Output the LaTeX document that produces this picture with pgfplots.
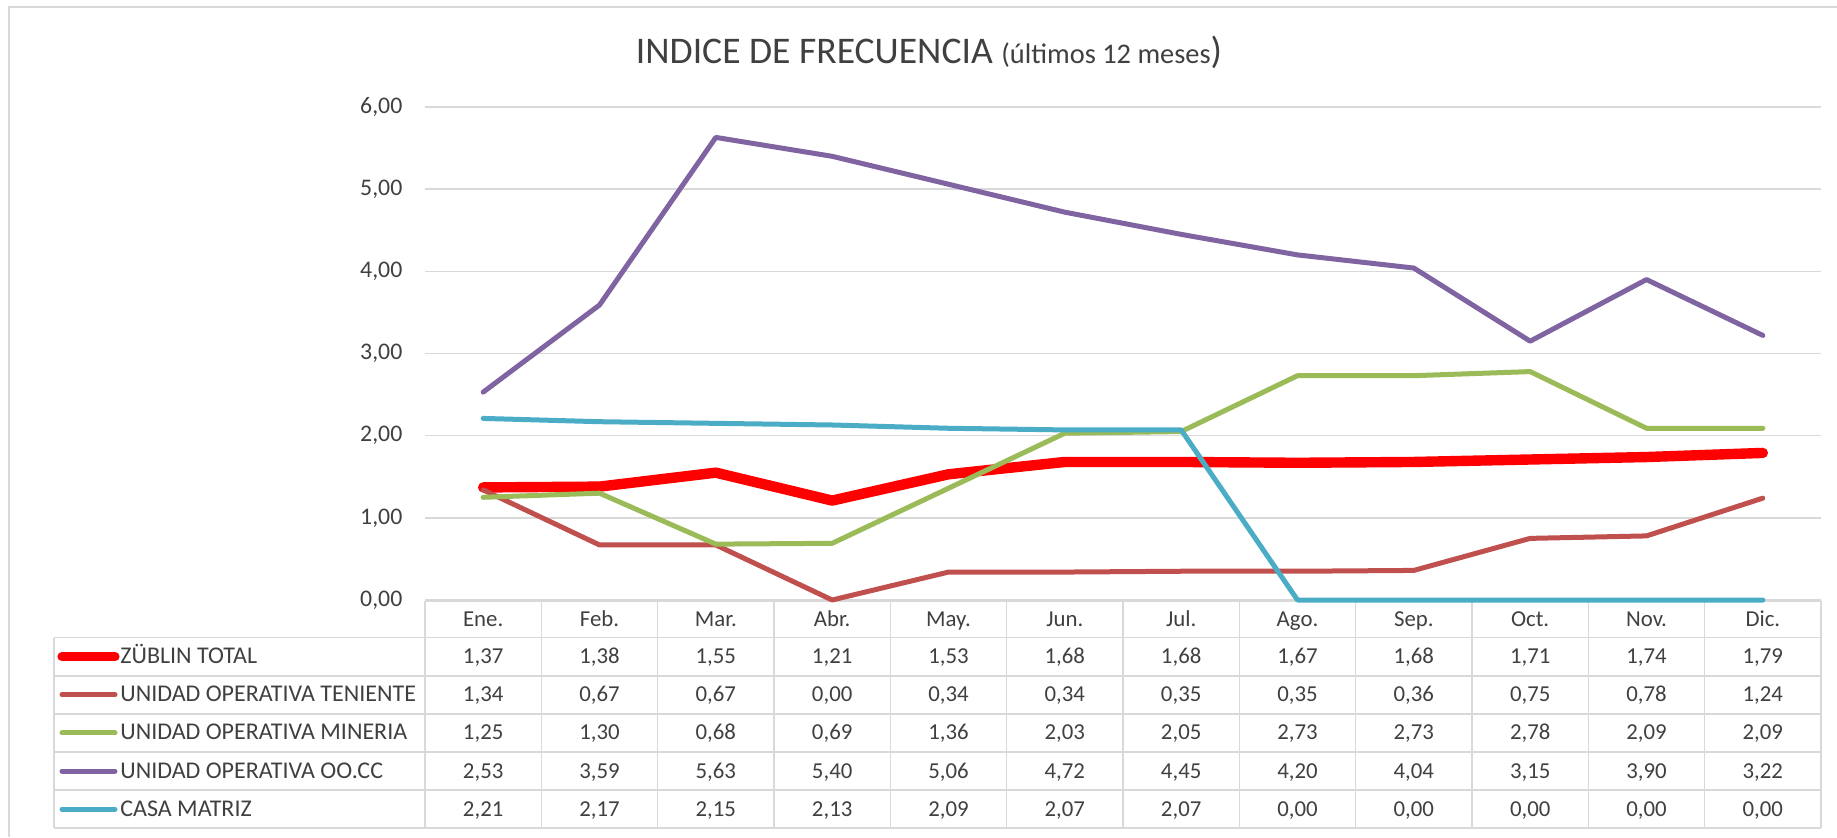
\documentclass[border=0pt]{standalone}
\usepackage{fontspec}
\setmainfont{Carlito}
\usepackage{pgfplots}
\usepackage{pgfplotstable}
\pgfplotsset{compat=1.18}
\definecolor{cZ}{HTML}{FF0000}
\definecolor{cT}{HTML}{C0504D}
\definecolor{cM}{HTML}{9BBB59}
\definecolor{cO}{HTML}{8064A2}
\definecolor{cC}{HTML}{4BACC6}
\definecolor{gridgray}{HTML}{D9D9D9}
\definecolor{txt}{HTML}{404040}

\pgfplotstableread{
m Z T M O C
0 1.37 1.34 1.25 2.53 2.21
1 1.38 0.67 1.30 3.59 2.17
2 1.55 0.67 0.68 5.63 2.15
3 1.21 0.00 0.69 5.40 2.13
4 1.53 0.34 1.36 5.06 2.09
5 1.68 0.34 2.03 4.72 2.07
6 1.68 0.35 2.05 4.45 2.07
7 1.67 0.35 2.73 4.20 0.00
8 1.68 0.36 2.73 4.04 0.00
9 1.71 0.75 2.78 3.15 0.00
10 1.74 0.78 2.09 3.90 0.00
11 1.79 1.24 2.09 3.22 0.00
}\data

\begin{document}
\begin{tikzpicture}
\useasboundingbox (0,0) rectangle (918.5pt,418.5pt);
% table grid, border, title (x,y in reference pixels)
\begin{scope}[x=0.5pt,y=-0.5pt,yshift=418.5pt]
  \draw[gridgray,line width=0.75pt] (9,837) -- (9,7) -- (1837,7);
  % horizontal table lines
  \draw[gridgray,line width=0.75pt] (425,601) -- (1821,601);
  \foreach \k in {0,...,5}{
    \draw[gridgray,line width=0.75pt] (54,{637.7+38.1*\k}) -- (1821,{637.7+38.1*\k});
  }
  % vertical table lines
  \draw[gridgray,line width=0.75pt] (54,637.7) -- (54,828.2);
  \foreach \i in {0,...,12}{
    \draw[gridgray,line width=0.75pt] ({425+116.333*\i},601) -- ({425+116.333*\i},828.2);
  }
  % header
  \foreach \lab [count=\i from 0] in {Ene.,Feb.,Mar.,Abr.,May.,Jun.,Jul.,Ago.,Sep.,Oct.,Nov.,Dic.}{
    \node[anchor=base,text=txt,font=\fontsize{11.4}{13}\selectfont,inner sep=0pt] at ({425+116.333*(\i+0.5)},626.5) {\lab};
  }
  % legend column
  \foreach \nm/\cl/\lw [count=\k from 0] in {ZÜBLIN TOTAL/cZ/4.6pt,UNIDAD OPERATIVA TENIENTE/cT/2.5pt,UNIDAD OPERATIVA MINERIA/cM/2.5pt,UNIDAD OPERATIVA OO.CC/cO/2.5pt,CASA MATRIZ/cC/2.5pt}{
    \draw[\cl,line width=\lw,line cap=round] (62,{637.7+38.1*(\k+0.5)}) -- (115,{637.7+38.1*(\k+0.5)});
    \node[anchor=base west,text=txt,font=\fontsize{12}{14}\selectfont,inner sep=0pt] at (120,{637.7+38.1*(\k+0.5)+7}) {\nm};
  }
  % values
  \foreach \col [count=\k from 0] in {Z,T,M,O,C}{
    \foreach \i in {0,...,11}{
      \pgfplotstablegetelem{\i}{\col}\of\data
      \node[anchor=base,text=txt,font=\fontsize{11.4}{13}\selectfont,inner sep=0pt] at ({425+116.333*(\i+0.5)},{637.7+38.1*(\k+0.5)+7}) {\pgfmathprintnumber[fixed,fixed zerofill,precision=2,use comma,assume math mode=true]{\pgfplotsretval}};
    }
  }
  % title
  \node[anchor=base,text=txt,inner sep=0pt] at (929,63.3) {\fontsize{18.8}{22}\selectfont INDICE DE FRECUENCIA \fontsize{14.2}{17}\selectfont(últimos 12 meses\fontsize{18.8}{22}\selectfont)};
\end{scope}

\begin{axis}[
  at={(212.5pt,118.5pt)}, anchor=south west,
  scale only axis, width=698pt, height=246.5pt,
  xmin=-0.5, xmax=11.5, ymin=0, ymax=6,
  ytick={0,1,2,3,4,5,6}, xtick=\empty,
  axis line style={draw=none},
  ymajorgrids, grid style={gridgray,line width=0.75pt},
  major tick length=0pt,
  clip=false,
  yticklabel={\pgfmathprintnumber[fixed,fixed zerofill,precision=2,use comma,assume math mode=true]{\tick}},
  yticklabel style={font=\fontsize{11.9}{13}\selectfont,text=txt,xshift=-7.8pt},
  every axis plot/.append style={line cap=round,line join=round,no markers},
]
\addplot[cZ,line width=5.2pt] table[x=m,y=Z]{\data};
\addplot[cT,line width=2.5pt] table[x=m,y=T]{\data};
\addplot[cM,line width=2.5pt] table[x=m,y=M]{\data};
\addplot[cO,line width=2.5pt] table[x=m,y=O]{\data};
\addplot[cC,line width=2.5pt] table[x=m,y=C]{\data};
\end{axis}
\end{tikzpicture}
\end{document}
